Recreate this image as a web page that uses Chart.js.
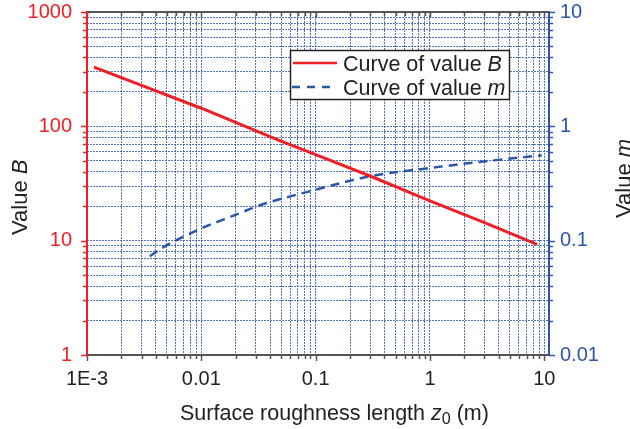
<!DOCTYPE html>
<html>
<head>
<meta charset="utf-8">
<script src="https://cdn.jsdelivr.net/npm/chart.js@4.4.1/dist/chart.umd.min.js"></script>
<style>
  html, body { margin: 0; padding: 0; background: #fff; }
  #wrap { position: relative; width: 630px; height: 429px; }
</style>
</head>
<body>
<div id="wrap"><canvas id="c" width="630" height="429"></canvas></div>
<script>
// ---- data ----
const bX = [0.00115, 0.003, 0.01, 0.0479, 0.1, 0.303, 1.0, 3.0, 8.65];
const bY = [330, 228, 144, 75.5, 56.6, 36.6, 22.3, 14.4, 9.3];
const mX = [0.00354, 0.00463, 0.01, 0.0196, 0.0326, 0.1016, 0.303, 0.93, 3.12, 9.5];
const mY = [0.073, 0.0873, 0.128, 0.167, 0.204, 0.28, 0.367, 0.428, 0.496, 0.558];

const xMajor = [0.001, 0.01, 0.1, 1, 10];
const xTickLabels = ['1E-3', '0.01', '0.1', '1', '10'];
const bMajor = [1, 10, 100, 1000];
const bTickLabels = ['1', '10', '100', '1000'];
const mMajor = [0.01, 0.1, 1, 10];
const mTickLabels = ['0.01', '0.1', '1', '10'];

const legendLabels = [['Curve of value ', 'B'], ['Curve of value ', 'm']];
const xTitle = ['Surface roughness length ', 'z', '0', ' (m)'];
const bTitle = ['Value ', 'B'];
const mTitle = ['Value ', 'm'];

// ---- helpers ----
const FONT = "'Liberation Sans', Arial, Helvetica, sans-serif";
const RED = '#ee1f26';
const BLUE = '#2c56a8';
const AXIS_GRAY = '#555555';
const GRID = 'rgba(40,80,170,0.8)';

function minorGrid(majors) {
  const out = [];
  for (let i = 0; i < majors.length - 1; i++) {
    for (let k = 1; k <= 9; k++) out.push(+(majors[i] * k).toPrecision(6));
  }
  out.push(majors[majors.length - 1]);
  return out;
}
const xGrid = minorGrid(xMajor);
const bGrid = minorGrid(bMajor);
const mGrid = minorGrid(mMajor);

function isMajor(v) {
  const l = Math.log10(v);
  return Math.abs(l - Math.round(l)) < 1e-9;
}
function labelFor(v, majors, labels) {
  for (let i = 0; i < majors.length; i++) {
    if (Math.abs(Math.log10(v) - Math.log10(majors[i])) < 1e-9) return labels[i];
  }
  return '';
}
function pts(xs, ys) { return xs.map((x, i) => ({ x: x, y: ys[i] })); }

function line(ctx, x1, y1, x2, y2) {
  ctx.beginPath(); ctx.moveTo(x1, y1); ctx.lineTo(x2, y2); ctx.stroke();
}
function richText(ctx, x, y, parts, size) {
  let cx = x;
  parts.forEach(([t, s]) => {
    let f = size, dy = 0, st = '';
    if (s === 'i') st = 'italic ';
    if (s === 's') { f = size * 0.75; dy = size * 0.2; }
    ctx.font = st + f + 'px ' + FONT;
    ctx.fillText(t, cx, y + dy);
    cx += ctx.measureText(t).width;
  });
}

const decor = {
  id: 'decor',
  afterDraw(chart) {
    const { ctx, chartArea: a, scales } = chart;
    const x = scales.x, yB = scales.yB, yM = scales.yM;
    ctx.save();
    ctx.lineCap = 'butt';
    ctx.lineWidth = 1.5;
    ctx.strokeStyle = AXIS_GRAY;
    xGrid.forEach(v => {
      const px = Math.round(x.getPixelForValue(v)) + 0.5;
      const L = isMajor(v) ? 6 : 4;
      line(ctx, px, a.bottom, px, a.bottom + L);
      line(ctx, px, a.top, px, a.top + L);
    });
    ctx.strokeStyle = RED;
    bGrid.forEach(v => {
      const py = Math.round(yB.getPixelForValue(v)) + 0.5;
      const L = isMajor(v) ? 6 : 4;
      line(ctx, a.left, py, a.left - L, py);
    });
    ctx.strokeStyle = BLUE;
    mGrid.forEach(v => {
      const py = Math.round(yM.getPixelForValue(v)) + 0.5;
      const L = isMajor(v) ? 6 : 4;
      line(ctx, a.right, py, a.right + L, py);
    });
    ctx.lineWidth = 2;
    ctx.strokeStyle = AXIS_GRAY;
    line(ctx, a.left, a.top, a.right, a.top);
    line(ctx, a.left, a.bottom, a.right, a.bottom);
    ctx.strokeStyle = RED;
    line(ctx, a.left, a.top - 1, a.left, a.bottom + 1);
    ctx.strokeStyle = BLUE;
    line(ctx, a.right, a.top - 1, a.right, a.bottom + 1);

    // legend
    const lx = 290.5, ly = 50.5, lw = 219, lh = 49;
    ctx.fillStyle = '#fff';
    ctx.fillRect(lx, ly, lw, lh);
    ctx.lineWidth = 1.5;
    ctx.strokeStyle = '#222';
    ctx.strokeRect(lx, ly, lw, lh);
    ctx.lineWidth = 2.5;
    ctx.strokeStyle = RED;
    line(ctx, 293, 63, 337, 63);
    ctx.strokeStyle = BLUE;
    ctx.setLineDash([8, 7]);
    line(ctx, 292, 87, 337, 87);
    ctx.setLineDash([]);
    ctx.fillStyle = '#222';
    ctx.textBaseline = 'alphabetic';
    ctx.textAlign = 'left';
    richText(ctx, 343, 70.5, [[legendLabels[0][0], 'n'], [legendLabels[0][1], 'i']], 21.5);
    richText(ctx, 343, 94.5, [[legendLabels[1][0], 'n'], [legendLabels[1][1], 'i']], 21.5);

    richText(ctx, 180, 419.5, [[xTitle[0], 'n'], [xTitle[1], 'i'], [xTitle[2], 's'], [xTitle[3], 'n']], 21.5);
    ctx.save();
    ctx.translate(26.5, 235);
    ctx.rotate(-Math.PI / 2);
    richText(ctx, 0, 0, [[bTitle[0], 'n'], [bTitle[1], 'i']], 22);
    ctx.restore();
    ctx.save();
    ctx.translate(631, 218);
    ctx.rotate(-Math.PI / 2);
    richText(ctx, 0, 0, [[mTitle[0], 'n'], [mTitle[1], 'i']], 22);
    ctx.restore();
    ctx.restore();
  }
};

new Chart(document.getElementById('c'), {
  type: 'line',
  data: {
    datasets: [
      {
        label: 'Curve of value B',
        data: pts(bX, bY),
        yAxisID: 'yB',
        borderColor: RED,
        borderWidth: 3,
        pointRadius: 0,
        tension: 0,
        fill: false
      },
      {
        label: 'Curve of value m',
        data: pts(mX, mY),
        yAxisID: 'yM',
        borderColor: BLUE,
        borderWidth: 2.5,
        borderDash: [9, 6],
        pointRadius: 0,
        cubicInterpolationMode: 'monotone',
        fill: false
      }
    ]
  },
  options: {
    responsive: false,
    animation: false,
    events: [],
    layout: { padding: { top: 12, left: 0, right: 0, bottom: 0 } },
    plugins: { legend: { display: false }, tooltip: { enabled: false } },
    scales: {
      x: {
        type: 'logarithmic',
        position: 'bottom',
        min: 0.001,
        max: 11,
        afterBuildTicks: s => { s.ticks = xGrid.map(v => ({ value: v })); },
        afterFit: s => { s.height = 74; s.paddingLeft = 0; s.paddingRight = 0; },
        grid: { color: GRID, lineWidth: 1, drawTicks: false },
        border: { display: false, dash: [2, 1] },
        ticks: {
          autoSkip: false, maxRotation: 0, minRotation: 0, padding: 12,
          font: { family: FONT, size: 20 }, color: '#222',
          callback: v => labelFor(v, xMajor, xTickLabels)
        }
      },
      yB: {
        type: 'logarithmic',
        position: 'left',
        min: 1,
        max: 1000,
        afterBuildTicks: s => { s.ticks = bGrid.map(v => ({ value: v })); },
        afterFit: s => { s.width = 87; s.paddingTop = 0; s.paddingBottom = 0; },
        grid: { color: GRID, lineWidth: 1, drawTicks: false },
        border: { display: false, dash: [2, 1] },
        ticks: {
          autoSkip: false, padding: 15,
          font: { family: FONT, size: 20 }, color: RED,
          callback: v => labelFor(v, bMajor, bTickLabels)
        }
      },
      yM: {
        type: 'logarithmic',
        position: 'right',
        min: 0.01,
        max: 10,
        afterBuildTicks: s => { s.ticks = mGrid.map(v => ({ value: v })); },
        afterFit: s => { s.width = 81; s.paddingTop = 0; s.paddingBottom = 0; },
        grid: { drawOnChartArea: false, drawTicks: false },
        border: { display: false },
        ticks: {
          autoSkip: false, padding: 11,
          font: { family: FONT, size: 20 }, color: BLUE,
          callback: v => labelFor(v, mMajor, mTickLabels)
        }
      }
    }
  },
  plugins: [decor]
});
</script>
</body>
</html>
